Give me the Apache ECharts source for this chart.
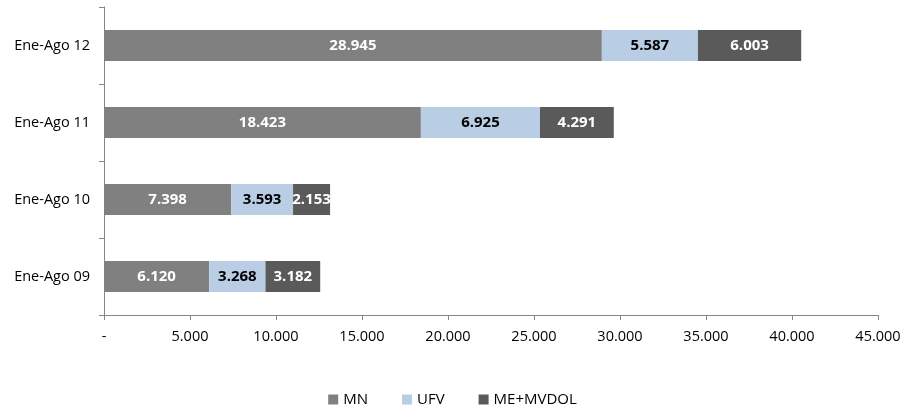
<!DOCTYPE html>
<html><head><meta charset="utf-8">
<script src="https://cdn.jsdelivr.net/npm/echarts@6/dist/echarts.min.js"></script>
<style>html,body{margin:0;padding:0;background:#fff}#c{width:905px;height:408px}</style>
</head><body><div id="c"></div>
<script>
var categories = ['Ene-Ago 09', 'Ene-Ago 10', 'Ene-Ago 11', 'Ene-Ago 12'];
var mn = [6120, 7398, 18423, 28945];
var ufv = [3268, 3593, 6925, 5587];
var meMvdol = [3182, 2153, 4291, 6003];
var seriesNames = ['MN', 'UFV', 'ME+MVDOL'];

function fmt(v) {
  if (v === 0) return '-';
  return String(Math.round(v)).replace(/\B(?=(\d{3})+(?!\d))/g, '.');
}
var font = 'Open Sans, Liberation Sans, sans-serif';
function mk(name, data, color, labelColor) {
  return {
    name: name, type: 'bar', stack: 't', data: data, barWidth: '40%',
    itemStyle: { color: color },
    label: { show: true, position: 'inside', color: labelColor, fontWeight: 'bold', fontSize: 15, fontFamily: font,
      formatter: function (p) { return fmt(p.value); } }
  };
}
var chart = echarts.init(document.getElementById('c'));
chart.setOption({
  animation: false,
  grid: { left: 104, right: 27, top: 7, bottom: 93 },
  legend: {
    top: 387, left: 'center', itemWidth: 10, itemHeight: 10, itemGap: 34, icon: 'rect',
    textStyle: { fontSize: 15, color: '#000', fontFamily: font },
    data: seriesNames
  },
  xAxis: {
    type: 'value', min: 0, max: 45000, interval: 5000,
    axisLine: { show: true, lineStyle: { color: '#868686' } },
    axisTick: { show: true, length: 5, lineStyle: { color: '#868686' } },
    splitLine: { show: false },
    axisLabel: { color: '#000', fontSize: 14.5, fontFamily: font, margin: 14, formatter: fmt }
  },
  yAxis: {
    type: 'category', data: categories,
    axisLine: { show: true, lineStyle: { color: '#868686' } },
    axisTick: { show: true, length: 5, lineStyle: { color: '#868686' } },
    axisLabel: { color: '#000', fontSize: 14.5, fontFamily: font, margin: 14 }
  },
  series: [
    mk(seriesNames[0], mn, '#808080', '#fff'),
    mk(seriesNames[1], ufv, '#b9cde5', '#000'),
    mk(seriesNames[2], meMvdol, '#5a5a5a', '#fff')
  ]
});
</script></body></html>
